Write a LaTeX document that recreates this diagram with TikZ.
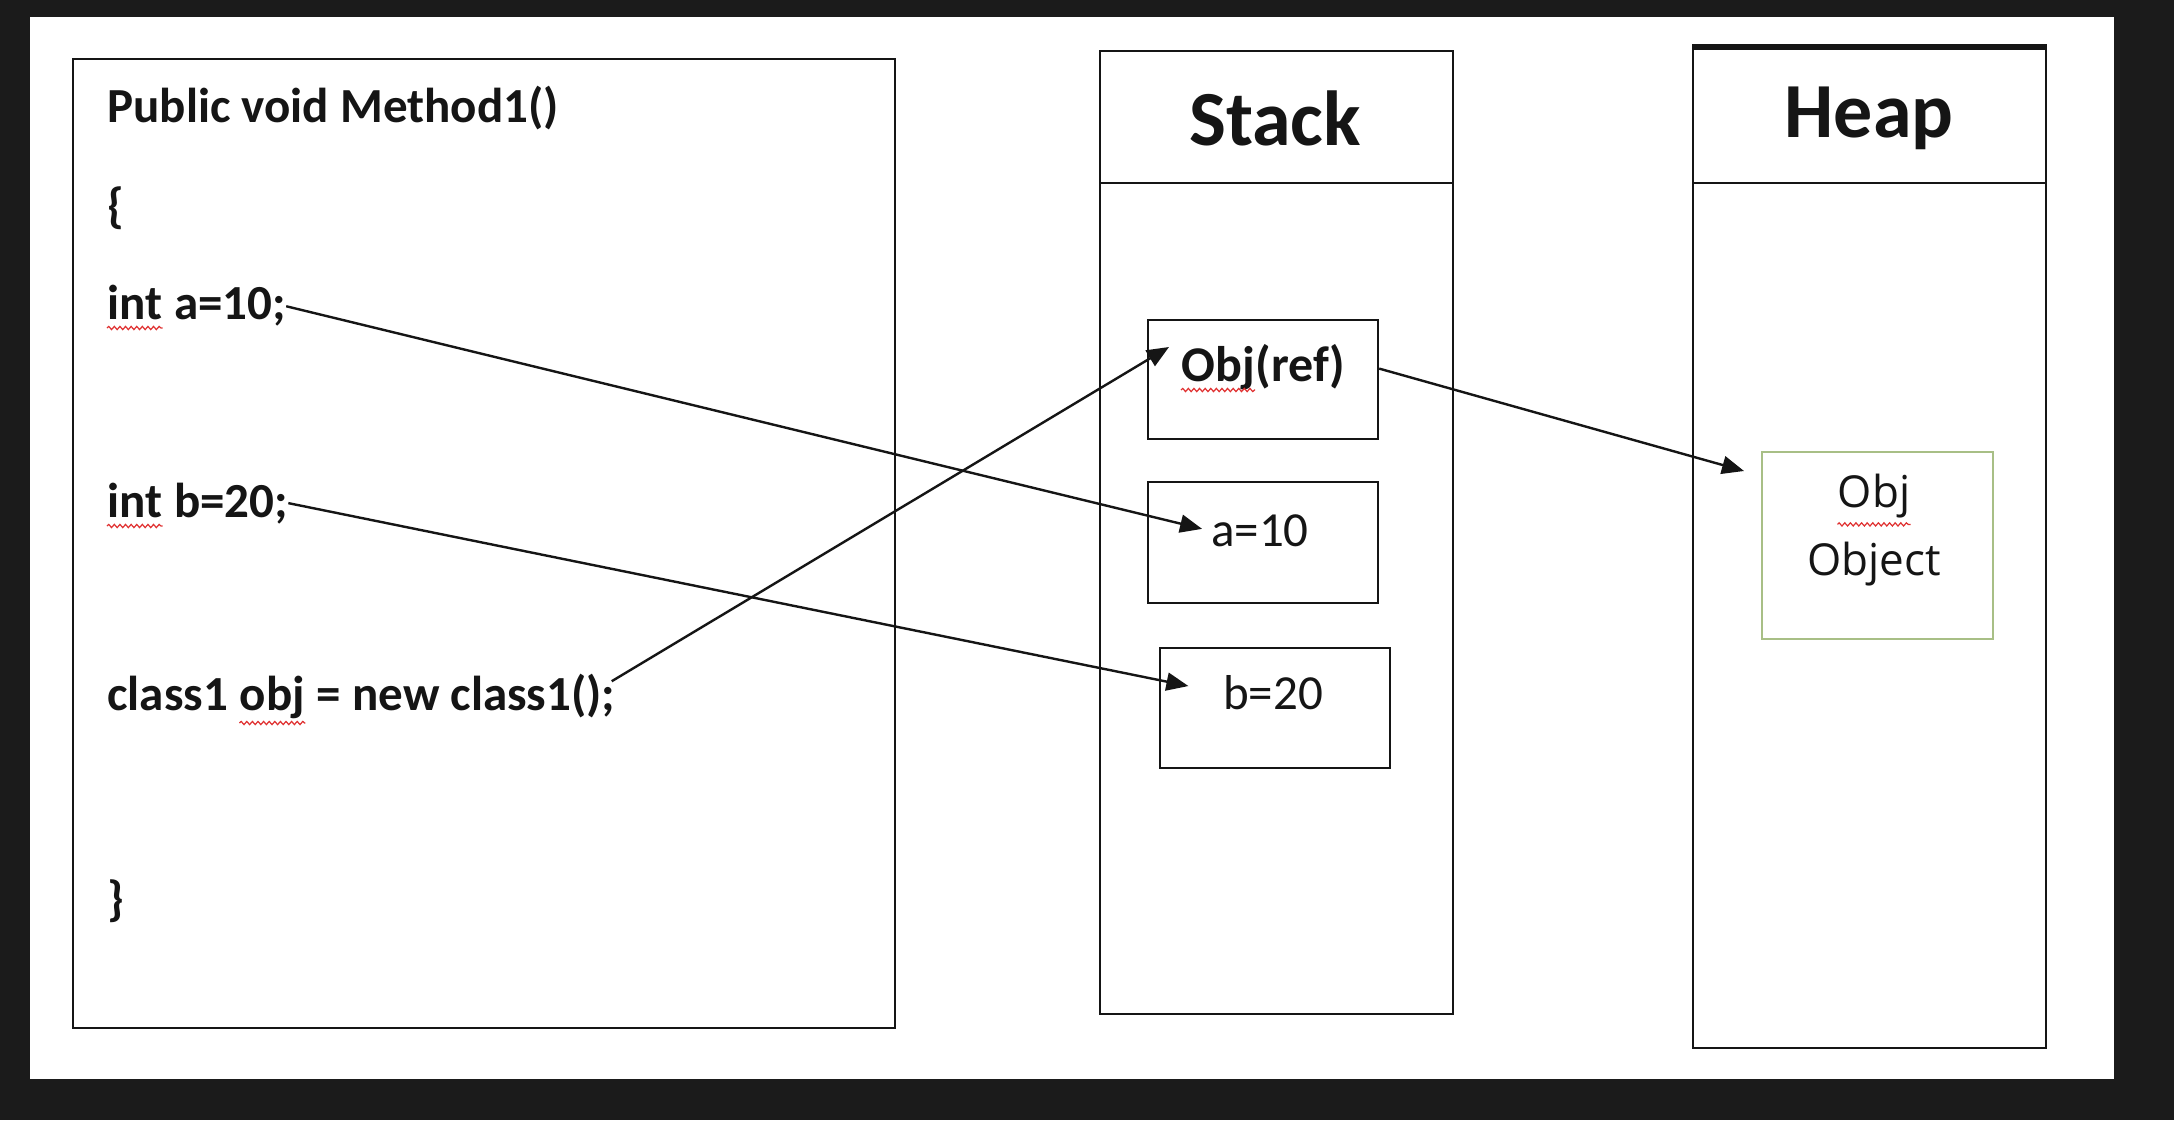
\documentclass[tikz,border=0pt]{standalone}
\usepackage{fontspec}
\setmainfont{Carlito}
\newfontfamily\osans{Open Sans}
\usetikzlibrary{arrows.meta,decorations.pathmorphing}
\definecolor{framebg}{HTML}{1B1B1B}
\definecolor{ink}{HTML}{151515}
\definecolor{objgreen}{HTML}{A8BF86}
\definecolor{spellred}{HTML}{E03030}
\tikzset{
  panel/.style={draw=ink, line width=1.2pt, anchor=north west, inner sep=0pt},
  cell/.style={draw=ink, line width=1.1pt, anchor=north west, inner sep=0pt},
  codetext/.style={anchor=base west, inner sep=0pt, text=ink, font=\fontsize{24.5}{30}\selectfont\bfseries},
  headtext/.style={inner sep=0pt, text=ink, font=\fontsize{39}{47}\selectfont\bfseries},
  celltext/.style={inner sep=0pt, text=ink, font=\fontsize{24.5}{30}\selectfont},
  reftext/.style={inner sep=0pt, text=ink, font=\fontsize{25}{30}\selectfont\bfseries},
  heaptext/.style={inner sep=0pt, text=ink, font=\osans\fontsize{22}{28}\selectfont},
  link/.style={draw=ink, line width=1.2pt, -{Triangle[length=11pt,width=9pt]}},
  squiggle/.style={draw=spellred, line width=0.6pt, decorate, decoration={snake, amplitude=0.8pt, segment length=2.8pt}}
}
\begin{document}
\begin{tikzpicture}[x=0.5pt,y=-0.5pt]
\useasboundingbox (0,0) rectangle (2174,1120);
\fill[framebg] (0,0) rectangle (2174,1120);
\fill[white] (30,17) rectangle (2114,1079);

% code panel
\node[panel, minimum width=411pt, minimum height=484.5pt] (code) at (72,58) {};
\node[codetext] (sig) at (107,122) {Public void Method1()};
\node[codetext] (ob) at (107,222) {\{};
\node[codetext] (kwa) at (107,319) {int};
\node[codetext] (inta) at ([xshift=5.5pt]kwa.base east) {a=10;};
\node[codetext] (kwb) at (107,517) {int};
\node[codetext] (intb) at ([xshift=5.5pt]kwb.base east) {b=20;};
\node[codetext] (clsa) at (107,710) {class1};
\node[codetext] (clsobj) at ([xshift=5.5pt]clsa.base east) {obj};
\node[codetext] (cls) at ([xshift=5.5pt]clsobj.base east) {= new class1();};
\node[codetext] (cb) at (107,915) {\}};

% stack
\node[panel, minimum width=176.5pt, minimum height=481.5pt] (stack) at (1099,50) {};
\node[panel, minimum width=176.5pt, minimum height=66pt] (stackhead) at (1099,50) {};
\node[headtext] (stacklbl) at (1275,118) {Stack};

\node[cell, minimum width=115pt, minimum height=59.5pt] (refbox) at (1147,319) {};
\node[reftext, anchor=base west] (refobj) at (1181,381) {Obj};
\node[reftext, anchor=base west] (reft) at (refobj.base east) {(ref)};
\node[cell, minimum width=115pt, minimum height=60.5pt] (abox) at (1147,481) {};
\node[celltext] (at) at (1260,531) {a=10};
\node[cell, minimum width=115pt, minimum height=60pt] (bbox) at (1159,647) {};
\node[celltext] (bt) at (1273,693) {b=20};

% heap
\node[panel, minimum width=176.5pt, minimum height=500pt] (heap) at (1692,47) {};
\node[panel, minimum width=176.5pt, minimum height=67.5pt] (heaphead) at (1692,47) {};
\draw[ink, line width=3pt] (heaphead.north west) -- (heaphead.north east);
\node[headtext] (heaplbl) at (1869,118) {Heap};
\node[draw=objgreen, line width=1pt, anchor=north west, inner sep=0pt, minimum width=115.5pt, minimum height=93.5pt] (hobj) at (1761,451) {};
\node[heaptext] (hobj1) at (1874,496) {Obj};
\node[heaptext] (hobj2) at (1874,564) {Object};

% spell-check marks
\draw[squiggle] ([yshift=-4.5pt]kwa.base west) -- ([yshift=-4.5pt]kwa.base east);
\draw[squiggle] ([yshift=-4.5pt]kwb.base west) -- ([yshift=-4.5pt]kwb.base east);
\draw[squiggle] ([yshift=-6.5pt]clsobj.base west) -- ([yshift=-6.5pt]clsobj.base east);
\draw[squiggle] ([yshift=-4.5pt]refobj.base west) -- ([yshift=-4.5pt]refobj.base east);
\draw[squiggle] ([yshift=-3pt]hobj1.south west) -- ([yshift=-3pt]hobj1.south east);

% connectors
\draw[link, shorten >=4.5pt] (inta.east) -- (at.west);
\draw[link, shorten >=17.5pt] (intb.east) -- (bt.west);
\draw[link] ([xshift=-2pt,yshift=-4pt]cls.north east) -- ([xshift=11pt,yshift=-14pt]refbox.north west);
\draw[link] ([yshift=5.5pt]refbox.east) -- ([xshift=-8.5pt,yshift=-10pt]hobj.north west);
\end{tikzpicture}
\end{document}
